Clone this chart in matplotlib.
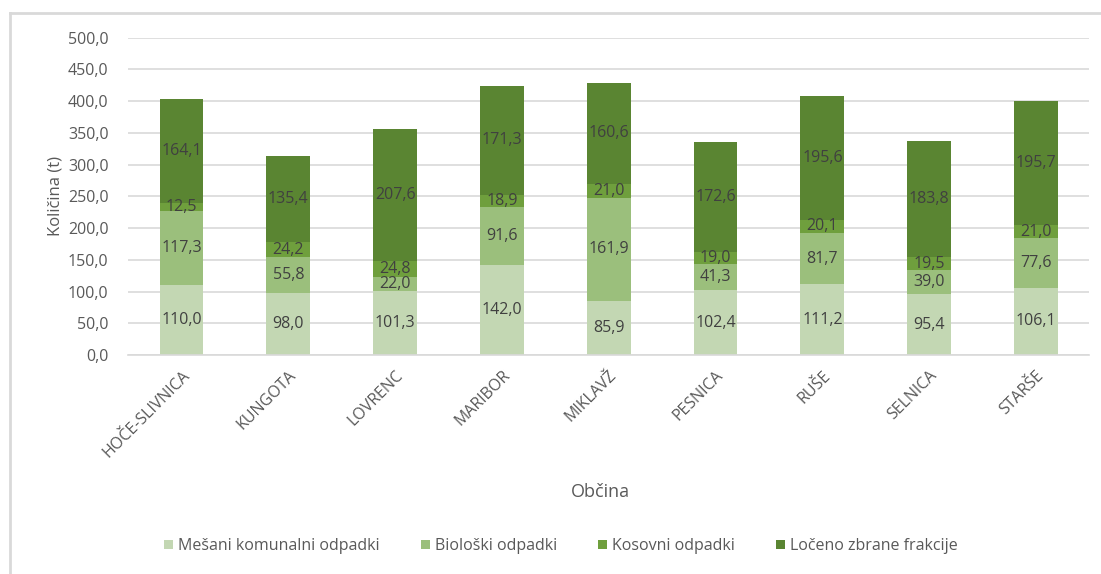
"""Stacked bar chart of municipal waste quantities per municipality."""

import matplotlib.pyplot as plt
import numpy as np
from matplotlib.lines import Line2D

plt.rcParams["font.family"] = ["Open Sans", "DejaVu Sans"]

municipalities = ["HOČE-SLIVNICA", "KUNGOTA", "LOVRENC", "MARIBOR", "MIKLAVŽ",
                  "PESNICA", "RUŠE", "SELNICA", "STARŠE"]
series_names = ["Mešani komunalni odpadki", "Biološki odpadki",
                "Kosovni odpadki", "Ločeno zbrane frakcije"]
mixed = [110.0, 98.0, 101.3, 142.0, 85.9, 102.4, 111.2, 95.4, 106.1]
bio = [117.3, 55.8, 22.0, 91.6, 161.9, 41.3, 81.7, 39.0, 77.6]
bulky = [12.5, 24.2, 24.8, 18.9, 21.0, 19.0, 20.1, 19.5, 21.0]
separate = [164.1, 135.4, 207.6, 171.3, 160.6, 172.6, 195.6, 183.8, 195.7]
colors = ["#c3d7b3", "#9bbf7c", "#6f9f3d", "#5a8532"]

fig = plt.figure(figsize=(11.01, 5.74), dpi=100)
ax = fig.add_axes([0.1163, 0.3815, 0.8732, 0.5528])

# chart frame (cropped on right and bottom like the screenshot)
fig.add_artist(Line2D([10 / 1101, 10 / 1101], [0, 1 - 13 / 574],
                      transform=fig.transFigure, color="#d9d9d9", lw=2))
fig.add_artist(Line2D([10 / 1101, 1], [1 - 13 / 574, 1 - 13 / 574],
                      transform=fig.transFigure, color="#d9d9d9", lw=2))

x = np.arange(len(municipalities))
bottom = np.zeros(len(municipalities))
for name, values, color in zip(series_names, [mixed, bio, bulky, separate], colors):
    values = np.array(values)
    ax.bar(x, values, 0.41, bottom=bottom, color=color, label=name, zorder=2)
    for xi, b, v in zip(x, bottom, values):
        ax.text(xi, b + v / 2, f"{v:.1f}".replace(".", ","), ha="center",
                va="center", fontsize=11.5, color="#404040", zorder=3)
    bottom += values

ax.set_xlim(-0.5, len(municipalities) - 0.5)
ax.set_ylim(0, 500)
ax.set_yticks(np.arange(0, 501, 50))
ax.set_yticklabels([f"{v:.1f}".replace(".", ",") for v in np.arange(0, 501, 50)])
ax.yaxis.grid(True, color="#d9d9d9", lw=1.2, zorder=0)
ax.set_xticks(x)
ax.set_xticklabels(municipalities, rotation=45, ha="right", rotation_mode="anchor")
ax.tick_params(axis="both", length=0, colors="#595959", labelsize=11.5)
ax.tick_params(axis="x", pad=9)
ax.tick_params(axis="y", pad=14)
for side in ["top", "right", "left"]:
    ax.spines[side].set_visible(False)
ax.spines["bottom"].set_color("#d9d9d9")
ax.spines["bottom"].set_linewidth(1.2)

ax.set_ylabel("Količina (t)", color="#595959", fontsize=12, labelpad=3)
fig.text(600 / 1101, 1 - 492 / 574, "Občina", ha="center", va="center",
         color="#595959", fontsize=13)

handles, labels = ax.get_legend_handles_labels()
fig.legend(handles, labels, loc="center", bbox_to_anchor=(561 / 1101, 1 - 546 / 574),
           ncol=4, frameon=False, fontsize=11.5, handlelength=0.55, handleheight=0.55,
           handletextpad=0.3, columnspacing=2.6, labelcolor="#595959")

fig.savefig("out.png", dpi=100, facecolor="white")
